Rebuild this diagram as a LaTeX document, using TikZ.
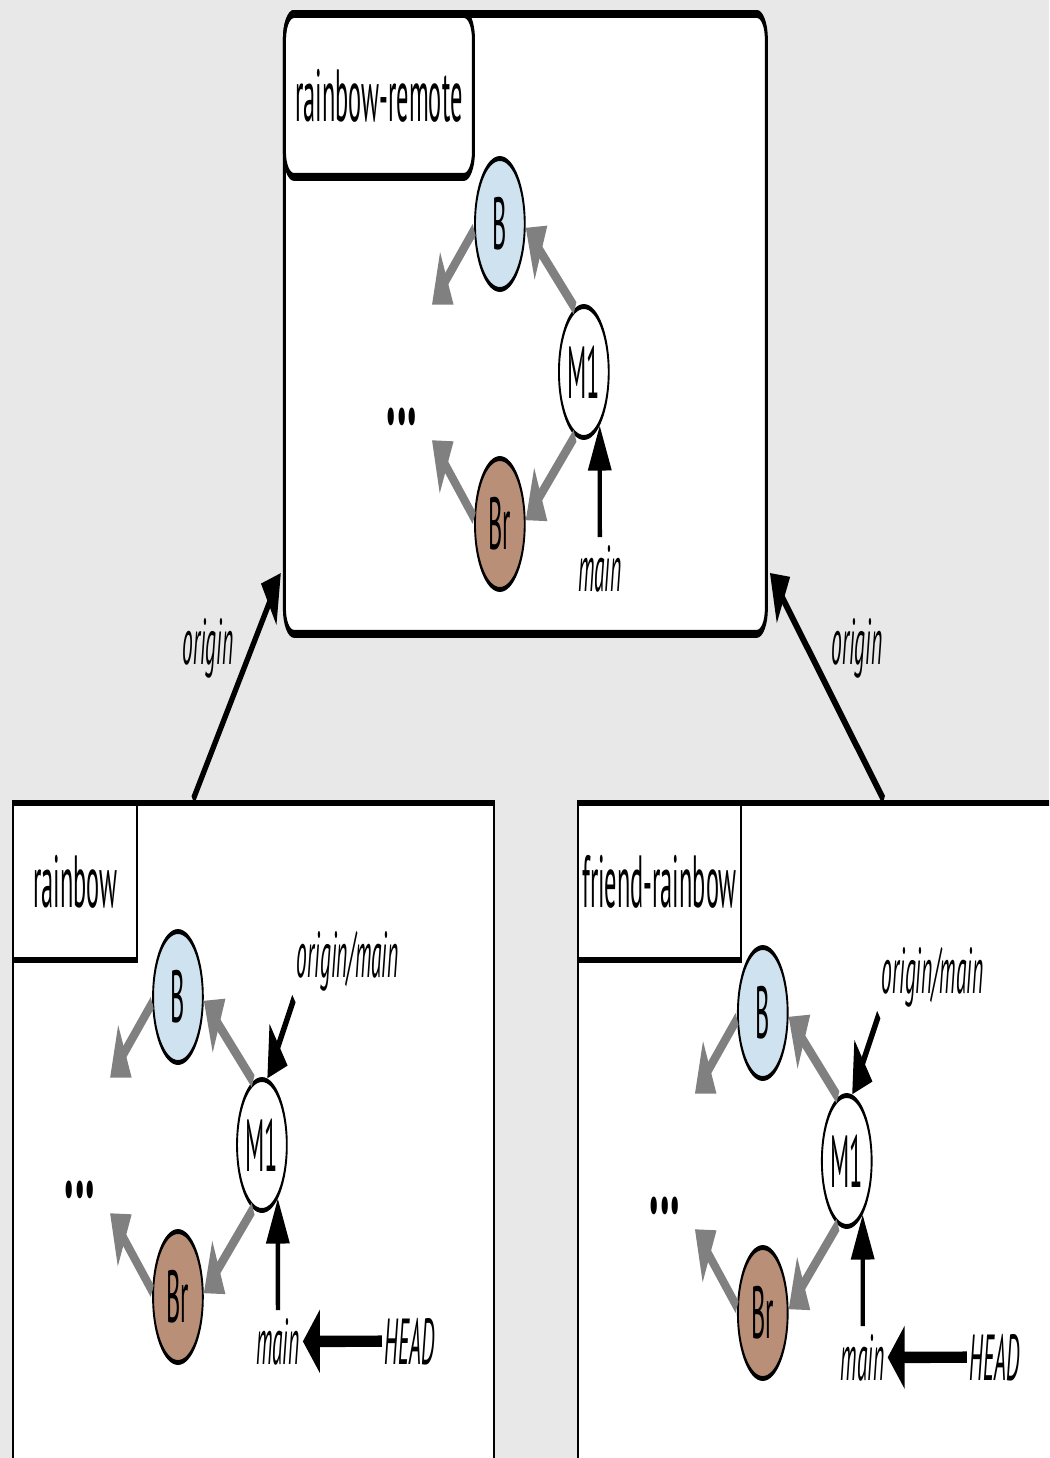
\documentclass[tikz,border=0pt]{standalone}
\usepackage{fontspec}
\setmainfont{PT Sans}[FakeStretch=0.87]
\usetikzlibrary{shapes.geometric,arrows.meta,positioning,calc}
\definecolor{bggray}{RGB}{232,232,232}
\definecolor{baseblue}{RGB}{207,226,240}
\definecolor{branchbrown}{RGB}{185,143,120}
\definecolor{edgegray}{RGB}{128,128,128}

\begin{document}
\begin{tikzpicture}[x=0.02cm, y=-0.02cm,
    commit/.style={draw, circle, line width=2.8pt, minimum size=2.62cm, inner sep=0pt, font=\fontsize{42}{50}\selectfont},
    repo/.style={draw, rectangle, line width=3.6pt, fill=white, anchor=north west, inner sep=0pt},
    tag/.style={draw, rectangle, line width=3.6pt, anchor=north west, inner sep=0pt, font=\fontsize{42}{50}\selectfont},
    ref/.style={font=\fontsize{37}{44}\selectfont\itshape, inner sep=0.15cm},
    parent/.style={-{Triangle[length=0.95cm, width=1.2cm]}, line width=8pt, edgegray},
    pointer/.style={-{Triangle[length=0.9cm, width=1.2cm]}, line width=6.5pt},
    upstream/.style={-{Triangle[length=0.9cm, width=1.1cm]}, line width=6pt}]
    \useasboundingbox (0,0) rectangle (1049,1458);
    \fill[bggray] (0,0) rectangle (1049,1458);
    \clip (0,0) rectangle (1049,1458);
    % everything is drawn round and then squeezed sideways
    \begin{scope}[x=0.052632cm, transform canvas={xscale=0.38}]
        % The three repositories
        \node[repo, rounded corners=0.5cm, line width=4.5pt, minimum width=25.37cm, minimum height=12.4cm] (remote) at (283,10) {};
        \node[tag, rounded corners=0.5cm, line width=4.5pt, minimum width=9.95cm, minimum height=3.26cm] (remotetag) at (remote.north west) {rainbow-remote};
        \node[repo, minimum width=25.32cm, minimum height=13.6cm] (rainbow) at (12,800) {};
        \node[tag, minimum width=6.53cm, minimum height=3.14cm] (rainbowtag) at (rainbow.north west) {rainbow};
        \node[repo, minimum width=25.95cm, minimum height=13.6cm] (friend) at (577,800) {};
        \node[tag, minimum width=8.58cm, minimum height=3.14cm] (friendtag) at (friend.north west) {friend-rainbow};

        % Same commit graph in each repository
        \foreach \repo/\dx/\dy in {remote/322/-773, rainbow/0/0, friend/585/16} {
            \node[commit, fill=baseblue] (\repo B) at ({178+\dx},{997+\dy}) {B};
            \node[commit, fill=white] (\repo M) at ({262+\dx},{1145+\dy}) {M1};
            \node[commit, fill=branchbrown] (\repo Br) at ({178+\dx},{1297+\dy}) {Br};
            \node[font=\fontsize{66}{76}\selectfont\bfseries] (\repo dots) at ({80+\dx},{1190+\dy}) {.\kern0.06cm.\kern0.06cm.};
            \coordinate (\repo Bend) at ({110+\dx},{1078+\dy});
            \coordinate (\repo Brend) at ({110+\dx},{1213+\dy});
            \draw[parent] (\repo M.110) -- (\repo B.-3);
            \draw[parent] (\repo M.-110) -- (\repo Br.3);
            \draw[parent] (\repo B.185) -- (\repo Bend);
            \draw[parent] (\repo Br.175) -- (\repo Brend);
            \node[ref, anchor=base] (\repo main) at ({278+\dx},{1364+\dy}) {main};
            \draw[pointer] (\repo main.north) -- (\repo M.-52);
        }

        % Local refs of the two clones
        \foreach \repo/\dx/\dy in {rainbow/0/0, friend/585/16} {
            \node[ref, anchor=base west] (\repo om) at ({294+\dx},{977+\dy}) {origin/main};
            \draw[pointer] (\repo om.south west) -- (\repo M.78);
            \node[ref, base right=4.17cm of \repo main] (\repo head) {HEAD};
            \draw[pointer] (\repo head.west) -- (\repo main.east);
        }

        % Clones point to the remote
        \draw[upstream] ($(rainbow.north west)+(181,0)$) -- ($(remote.south west)+(-2,-65)$);
        \node[ref] (leftorigin) at (208,648) {origin};
        \draw[upstream] ($(friend.north west)+(307,0)$) -- ($(remote.south east)+(2,-65)$);
        \node[ref] (rightorigin) at (857,648) {origin};
    \end{scope}
\end{tikzpicture}
\end{document}
